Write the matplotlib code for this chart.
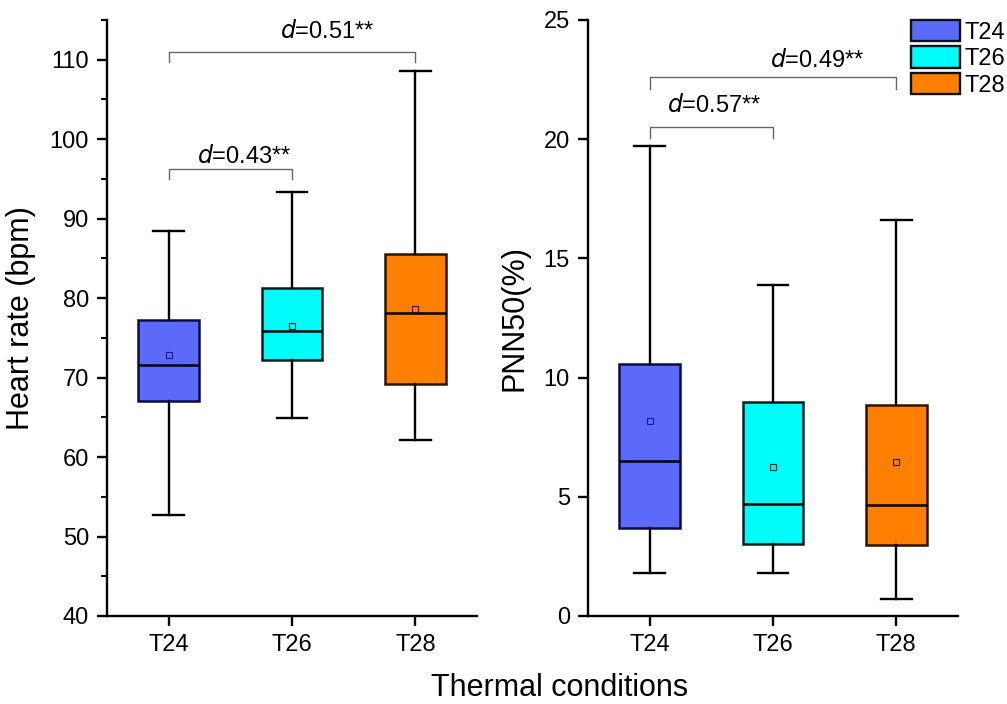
import matplotlib
matplotlib.use("Agg")
import matplotlib.pyplot as plt
from matplotlib.patches import Patch
from matplotlib.ticker import MultipleLocator

plt.rcParams["font.family"] = ["Liberation Sans", "DejaVu Sans"]

groups = ["T24", "T26", "T28"]
colors = ["#5b6af8", "#00fbf8", "#ff8000"]
edges = ["#0c0c48", "#062020", "#2a1200"]

# heart rate (bpm): whisker low, q1, median, q3, whisker high, mean
hr_low = [52.7, 64.9, 62.1]
hr_q1 = [67.1, 72.2, 69.2]
hr_med = [71.6, 75.9, 78.1]
hr_q3 = [77.2, 81.3, 85.6]
hr_high = [88.5, 93.4, 108.6]
hr_mean = [72.8, 76.5, 78.6]

# PNN50 (%)
pn_low = [1.82, 1.82, 0.71]
pn_q1 = [3.71, 3.03, 2.96]
pn_med = [6.51, 4.71, 4.66]
pn_q3 = [10.59, 8.96, 8.84]
pn_high = [19.72, 13.9, 16.61]
pn_mean = [8.16, 6.25, 6.44]

# effect-size brackets: (from, to, label)
hr_pairs = [(1, 2, "0.43"), (1, 3, "0.51")]
pn_pairs = [(1, 2, "0.57"), (1, 3, "0.49")]


def stats(low, q1, med, q3, high, mean):
    return [dict(whislo=a, q1=b, med=c, q3=d, whishi=e, mean=f, fliers=[])
            for a, b, c, d, e, f in zip(low, q1, med, q3, high, mean)]


def draw_boxes(ax, st):
    bp = ax.bxp(st, positions=[1, 2, 3], widths=0.49, patch_artist=True,
                showmeans=True, showfliers=False,
                whiskerprops=dict(color="black", lw=1.7),
                capprops=dict(color="black", lw=1.7),
                medianprops=dict(color="black", lw=1.8),
                capwidths=0.25)
    for i, box in enumerate(bp["boxes"]):
        box.set_facecolor(colors[i])
        box.set_edgecolor(edges[i])
        box.set_linewidth(1.8)
        box.set_zorder(2)
    for i, m in enumerate(bp["means"]):
        m.set_marker("s")
        m.set_markersize(5)
        m.set_markerfacecolor("none")
        m.set_markeredgecolor(edges[i] if i else "#1a1a90")
        m.set_markeredgewidth(0.8)
        m.set_zorder(4)


def bracket(ax, x1, x2, y, drop, label, tx, ty):
    ax.plot([x1, x1, x2, x2], [y - drop, y, y, y - drop],
            color="#666666", lw=1.0)
    ax.text(tx, ty, r"$\it{d}$" + "=" + label + "**", ha="center",
            va="center", fontsize=17)


def style(ax):
    ax.spines["top"].set_visible(False)
    ax.spines["right"].set_visible(False)
    for s in ("left", "bottom"):
        ax.spines[s].set_linewidth(1.7)
    ax.set_xlim(0.5, 3.5)
    ax.set_xticks([1, 2, 3])
    ax.set_xticklabels(groups)
    ax.tick_params(direction="out", length=7, width=1.7, labelsize=17, pad=6)
    ax.tick_params(which="minor", direction="out", length=4, width=1.5)


fig = plt.figure(figsize=(10.07, 7.04), dpi=100)
ax1 = fig.add_axes([0.1063, 0.125, 0.3674, 0.8466])
ax2 = fig.add_axes([0.5839, 0.125, 0.3674, 0.8466])

draw_boxes(ax1, stats(hr_low, hr_q1, hr_med, hr_q3, hr_high, hr_mean))
style(ax1)
ax1.set_ylim(40, 115)
ax1.set_yticks(range(40, 111, 10))
ax1.yaxis.set_minor_locator(MultipleLocator(5))
ax1.set_ylabel("Heart rate (bpm)", fontsize=22, labelpad=10)
bracket(ax1, 1, 2, 96.2, 1.2, hr_pairs[0][2], 1.61, 97.8)
bracket(ax1, 1, 3, 111.0, 1.3, hr_pairs[1][2], 2.29, 113.6)

draw_boxes(ax2, stats(pn_low, pn_q1, pn_med, pn_q3, pn_high, pn_mean))
style(ax2)
ax2.set_ylim(0, 25)
ax2.set_yticks(range(0, 26, 5))
ax2.set_ylabel("PNN50(%)", fontsize=22, labelpad=10)
bracket(ax2, 1, 2, 20.53, 0.5, pn_pairs[0][2], 1.52, 21.4)
bracket(ax2, 1, 3, 22.59, 0.5, pn_pairs[1][2], 2.36, 23.3)

handles = [Patch(facecolor=c, edgecolor="#111111", lw=1.7) for c in colors]
ax2.legend(handles, groups, loc="upper left", bbox_to_anchor=(0.873, 1.0),
           frameon=False, fontsize=17, handlelength=2.07, handleheight=1.0,
           handletextpad=0.2, labelspacing=0.12, borderpad=0,
           borderaxespad=0)

fig.text(0.556, 0.023, "Thermal conditions", ha="center", va="center",
         fontsize=22)

fig.savefig("out.png", dpi=100)
